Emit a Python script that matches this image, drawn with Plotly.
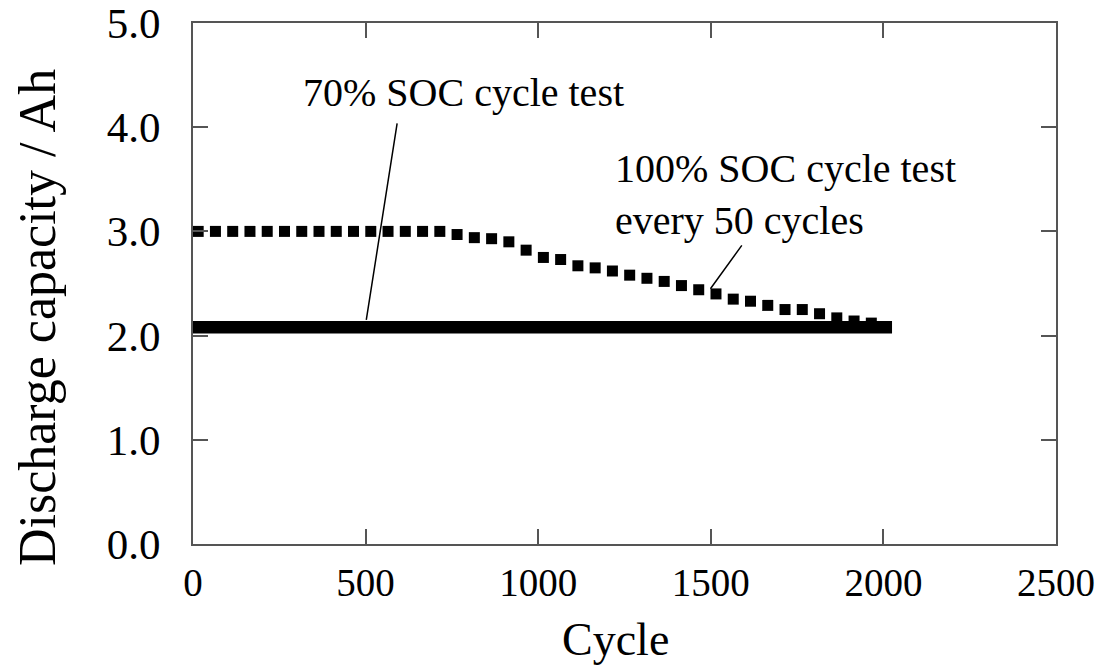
import plotly.graph_objects as go

# 100% SOC capacity check, measured every 50 cycles
check_cycles = [15 + 50 * i for i in range(40)]
check_capacity = [
    3.00, 3.00, 3.00, 3.00, 3.00, 3.00, 3.00, 3.00, 3.00, 3.00,
    3.00, 3.00, 3.00, 3.00, 3.00, 2.97, 2.94, 2.93, 2.90, 2.82,
    2.75, 2.73, 2.67, 2.65, 2.62, 2.58, 2.55, 2.52, 2.48, 2.44,
    2.40, 2.35, 2.33, 2.29, 2.25, 2.25, 2.21, 2.17, 2.14, 2.12,
]

# 70% SOC cycling capacity (flat over the whole test)
soc70_cycles = [0, 2025]
soc70_capacity = [2.08, 2.08]

x_ticks = [0, 500, 1000, 1500, 2000, 2500]
y_ticks = [0.0, 1.0, 2.0, 3.0, 4.0, 5.0]

FONT = "Liberation Serif, Times New Roman, serif"

fig = go.Figure()

fig.add_trace(go.Scatter(
    x=soc70_cycles, y=soc70_capacity, mode="lines",
    line=dict(color="black", width=12.5),
    showlegend=False, hoverinfo="skip",
))

fig.add_trace(go.Scatter(
    x=check_cycles, y=check_capacity, mode="markers",
    marker=dict(symbol="square", size=11, color="black", line=dict(width=0)),
    showlegend=False,
))

axis_common = dict(
    showline=True, linecolor="#555555", linewidth=2,
    ticks="inside", ticklen=15, tickwidth=1.5, tickcolor="#555555",
    mirror="ticks", showgrid=False, zeroline=False, automargin=False,
)

fig.update_xaxes(
    range=[0, 2500], tickvals=x_ticks, ticktext=[str(v) for v in x_ticks],
    tickfont=dict(family=FONT, size=39, color="black"),
    ticklabelstandoff=3,
    **axis_common,
)
fig.update_yaxes(
    range=[0, 5], tickvals=y_ticks, ticktext=[f"{v:.1f}" for v in y_ticks],
    tickfont=dict(family=FONT, size=43, color="black"),
    ticklabelstandoff=22,
    **axis_common,
)

annotations = [
    # axis titles
    dict(text="Cycle", xref="paper", yref="paper", x=0.489, y=-0.13,
         xanchor="center", yanchor="top", showarrow=False,
         font=dict(family=FONT, size=46, color="black")),
    dict(text="Discharge capacity / Ah", xref="paper", yref="paper",
         x=-0.18, y=0.435, xanchor="center", yanchor="middle",
         textangle=-90, showarrow=False,
         font=dict(family=FONT, size=52, color="black")),
    # series labels
    dict(text="70% SOC cycle test", xref="x", yref="y", x=783, y=4.33,
         xanchor="center", yanchor="middle", showarrow=False,
         font=dict(family=FONT, size=40, color="black")),
    dict(text="100% SOC cycle test<br>every 50 cycles", xref="x", yref="y",
         x=1218, y=3.35, xanchor="left", yanchor="middle", align="left",
         showarrow=False,
         font=dict(family=FONT, size=40, color="black")),
    # leader lines
    dict(text="", xref="x", yref="y", x=502, y=2.15,
         axref="x", ayref="y", ax=592, ay=4.05,
         showarrow=True, arrowhead=0, arrowwidth=1.5, arrowcolor="black",
         standoff=0, startstandoff=0),
    dict(text="", xref="x", yref="y", x=1499, y=2.45,
         axref="x", ayref="y", ax=1593, ay=2.88,
         showarrow=True, arrowhead=0, arrowwidth=1.5, arrowcolor="black",
         standoff=0, startstandoff=0),
]

fig.update_layout(
    width=1101, height=666,
    margin=dict(l=193, r=45, t=23, b=122),
    paper_bgcolor="white", plot_bgcolor="white",
    annotations=annotations,
    showlegend=False,
)

fig.write_html("out.html")
